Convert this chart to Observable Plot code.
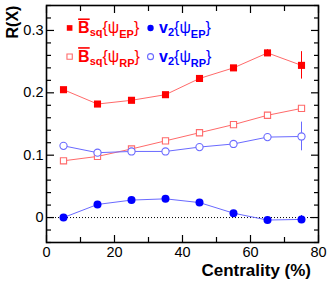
<!DOCTYPE html>
<html><head><meta charset="utf-8">
<script src="https://cdn.jsdelivr.net/npm/d3@7"></script>
<script src="https://cdn.jsdelivr.net/npm/@observablehq/plot@0.6"></script>
<style>
body{margin:0;background:#fff}
svg{font-family:"Liberation Sans",Arial,Helvetica,sans-serif}
</style>
</head><body><div id="chart"></div>
<script>
// ---- data ----
const centrality = [5, 15, 25, 35, 45, 55, 65, 75];
const bsqEP    = [0.205, 0.182, 0.188, 0.197, 0.223, 0.240, 0.264, 0.244];
const bsqEPerr = [0, 0, 0, 0, 0, 0, 0.005, 0.022];
const bsqRP    = [0.091, 0.098, 0.110, 0.123, 0.136, 0.149, 0.164, 0.175];
const v2EP     = [0.000, 0.021, 0.028, 0.030, 0.024, 0.007, -0.004, -0.003];
const v2EPerr  = [0, 0, 0, 0, 0, 0, 0.005, 0.006];
const v2RP     = [0.115, 0.104, 0.106, 0.106, 0.113, 0.118, 0.129, 0.130];
const v2RPerr  = [0, 0, 0, 0, 0, 0, 0, 0.023];
const xTickLabels = [0, 20, 40, 60, 80];
const xMinorTicks = [10, 30, 50, 70];
const yTickLabels = [0, 0.1, 0.2, 0.3];
const yMinorTicks = [-0.04,-0.02,0.02,0.04,0.06,0.08,0.12,0.14,0.16,0.18,0.22,0.24,0.26,0.28,0.32,0.34];
// legend entries
const legendX = [6.8, 6.8, 30.6, 30.6];
const legendY = [0.304, 0.258, 0.304, 0.258];
const legendMain = ["B", "B", "v", "v"];
const legendSub1 = ["sq", "sq", "2", "2"];
const legendSub2 = ["EP", "RP", "EP", "RP"];

const RED = "#ff0000", RED_L = "#ff6a6a", BLUE = "#0000ff", BLUE_L = "#6a6aff";

const rows = (ys, errs) => centrality.map((c, i) => ({x: c, y: ys[i], e: errs ? errs[i] : 0}));
const dEP = rows(bsqEP, bsqEPerr), dRP = rows(bsqRP), vEP = rows(v2EP, v2EPerr), vRP = rows(v2RP, v2RPerr);
const errRule = (d, stroke) => Plot.ruleX(d.filter(r => r.e > 0), {x: "x", y1: r => r.y - r.e, y2: r => r.y + r.e, stroke, strokeWidth: 1});

const legendData = legendX.map((x, i) => ({x, y: legendY[i], i}));
const legendSym = ["square", "square", "circle", "circle"];
const legendFill = [RED, "white", BLUE, "white"];
const legendStroke = [RED, RED_L, BLUE, BLUE_L];

const plot = Plot.plot({
  width: 332, height: 282,
  marginLeft: 46, marginRight: 14, marginTop: 5, marginBottom: 40,
  x: {domain: [0, 80]},
  y: {domain: [-0.04, 0.34]},
  marks: [
    Plot.ruleY([0], {stroke: "#000", strokeWidth: 1, strokeDasharray: "1,2"}),
    // inward ticks
    Plot.axisX(xTickLabels, {anchor: "bottom", tickSize: -7, text: null, label: null, strokeWidth: 1.2}),
    Plot.axisX(xMinorTicks, {anchor: "bottom", tickSize: -5, text: null, label: null, strokeWidth: 1.2}),
    Plot.axisX(xTickLabels, {anchor: "top", tickSize: -7, text: null, label: null, strokeWidth: 1.2}),
    Plot.axisX(xMinorTicks, {anchor: "top", tickSize: -5, text: null, label: null, strokeWidth: 1.2}),
    Plot.axisY(yTickLabels, {anchor: "left", tickSize: -8, text: null, label: null, strokeWidth: 1.2}),
    Plot.axisY(yMinorTicks, {anchor: "left", tickSize: -5, text: null, label: null, strokeWidth: 1.2}),
    Plot.axisY(yTickLabels, {anchor: "right", tickSize: -8, text: null, label: null, strokeWidth: 1.2}),
    Plot.axisY(yMinorTicks, {anchor: "right", tickSize: -5, text: null, label: null, strokeWidth: 1.2}),
    // labels
    Plot.axisX(xTickLabels, {anchor: "bottom", tickSize: 0, tickPadding: 4, label: null, fontSize: 14.5, tickFormat: d => String(d)}),
    Plot.axisY(yTickLabels, {anchor: "left", tickSize: 0, tickPadding: 3, label: null, fontSize: 14.5, tickFormat: d => String(d)}),
    // series
    Plot.line(dEP, {x: "x", y: "y", stroke: RED_L, strokeWidth: 1}),
    Plot.line(dRP, {x: "x", y: "y", stroke: RED_L, strokeWidth: 1}),
    Plot.line(vEP, {x: "x", y: "y", stroke: BLUE_L, strokeWidth: 1}),
    Plot.line(vRP, {x: "x", y: "y", stroke: BLUE_L, strokeWidth: 1}),
    errRule(dEP, RED), errRule(vEP, BLUE), errRule(vRP, BLUE_L),
    Plot.dot(dEP, {x: "x", y: "y", symbol: "square", r: 4, fill: RED, stroke: RED, strokeWidth: 0}),
    Plot.dot(dRP, {x: "x", y: "y", symbol: "square", r: 3.5, fill: "white", stroke: RED_L, strokeWidth: 1.1}),
    Plot.dot(vEP, {x: "x", y: "y", symbol: "circle", r: 4, fill: BLUE, stroke: BLUE, strokeWidth: 0}),
    Plot.dot(vRP, {x: "x", y: "y", symbol: "circle", r: 3.6, fill: "white", stroke: BLUE_L, strokeWidth: 1.1}),
    // legend markers
    Plot.dot(legendData, {x: "x", y: "y", symbol: d => legendSym[d.i], r: d => d.i % 2 ? 3.2 : 3.6,
      fill: d => legendFill[d.i], stroke: d => legendStroke[d.i], strokeWidth: d => d.i % 2 ? 1.1 : 0}),
    Plot.frame({stroke: "#000", strokeWidth: 1.6})
  ]
});
document.getElementById("chart").append(plot);

// legend text and axis titles
const svg = d3.select(plot);
const sx = plot.scale("x"), sy = plot.scale("y");
legendData.forEach((d, i) => {
  const color = i < 2 ? RED : BLUE;
  const t = svg.append("text")
    .attr("text-anchor", "start")
    .attr("x", sx.apply(d.x) + 9).attr("y", sy.apply(d.y) + 6)
    .attr("fill", color).attr("font-weight", "bold").attr("font-size", 16);
  const m = t.append("tspan").text(legendMain[i]);
  if (i < 2) m.style("text-decoration", "overline");
  t.append("tspan").attr("font-size", 11).attr("dy", 3).text(legendSub1[i]);
  t.append("tspan").attr("dy", -3).attr("font-weight", "normal").text("{ψ");
  t.append("tspan").attr("font-size", 11).attr("dy", 5).text(legendSub2[i]);
  t.append("tspan").attr("dy", -5).attr("font-weight", "normal").text("}");
});
svg.append("text").attr("transform", "translate(18,22) rotate(-90)")
  .attr("text-anchor", "middle").attr("font-weight", "bold").attr("font-size", 16).text("R(X)");
svg.append("text").attr("x", 311).attr("y", 276)
  .attr("text-anchor", "end").attr("font-weight", "bold").attr("font-size", 17).text("Centrality (%)");
</script>
</body></html>
